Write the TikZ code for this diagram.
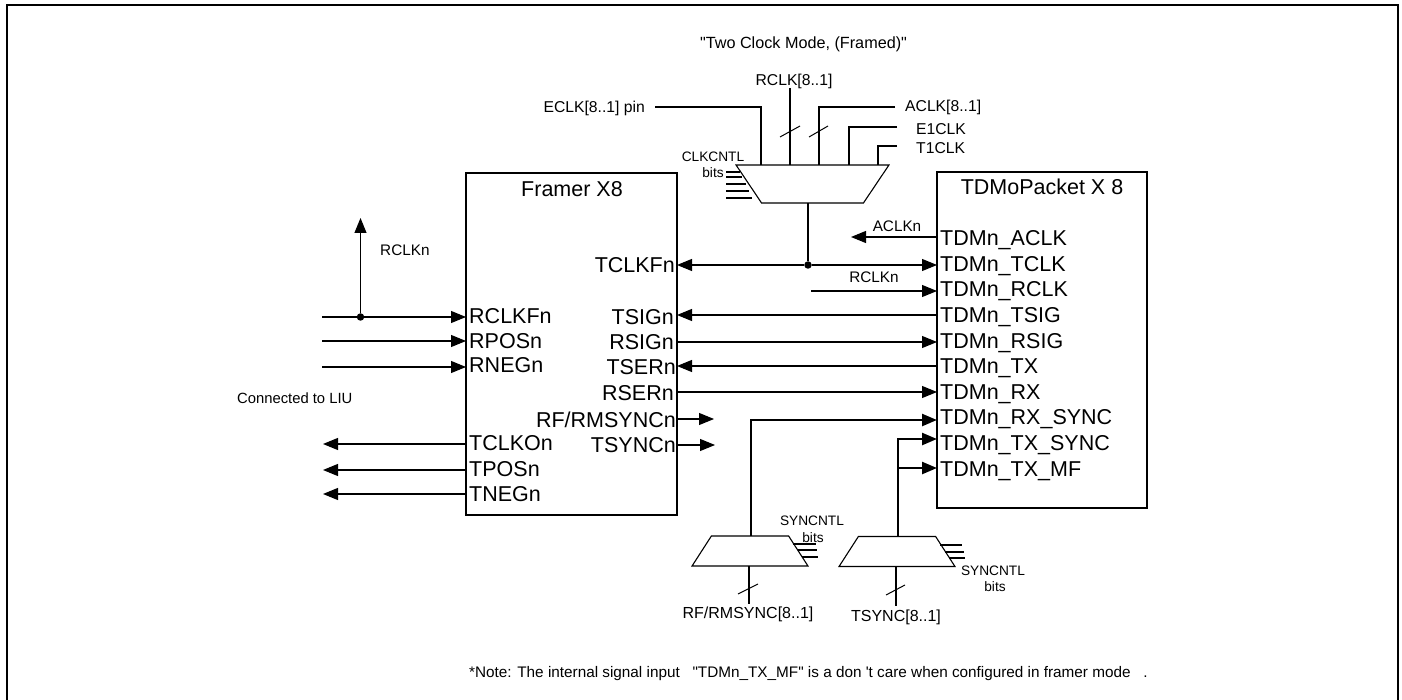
\documentclass[tikz,border=0pt]{standalone}
\usepackage{fontspec}
\setmainfont{Liberation Sans}
\usetikzlibrary{arrows.meta,shapes.geometric}
\newcommand{\muxfill}{\phantom{\rule{20pt}{10pt}}}
\tikzset{
  wire/.style={line width=1.1pt,draw=black},
  heavy/.style={line width=2.4pt,draw=black},
  arr/.style={wire,-{Triangle[length=15pt,width=12pt]}},
  harr/.style={heavy,-{Triangle[length=15pt,width=12pt]}},
  blockbox/.style={draw=black,line width=1.1pt,inner sep=0pt,outer sep=0pt},
  muxup/.style={draw=black,line width=1.1pt,trapezium,trapezium left angle=63.4,trapezium right angle=63.4,trapezium stretches=true,inner sep=0pt,outer sep=0pt},
  muxdown/.style={muxup,shape border rotate=180},
  big/.style={font=\fontsize{21.5}{24}\selectfont,inner sep=0pt,text height=15.5pt,text depth=0pt},
  small/.style={font=\fontsize{15.7}{18}\selectfont,inner sep=0pt,text height=11pt,text depth=0pt},
  tiny/.style={small,font=\fontsize{13.7}{16}\selectfont},
  nodedot/.style={circle,fill=black,inner sep=0pt,minimum size=7.5pt},
  tick/.style={line width=1pt}
}
\begin{document}
\begin{tikzpicture}[x=1pt,y=-1pt]
\useasboundingbox (0,0) rectangle (1402,700);
\draw[line width=2pt] (7,700) -- (7,5.5) -- (1398,5.5) -- (1398,700);

% blocks
\node[blockbox,minimum width=211pt,minimum height=342pt] (framer) at (571.5,344) {};
\node[blockbox,minimum width=210pt,minimum height=336pt] (tdm) at (1042,340) {};
\node[big] (framertitle) at (572,189) {Framer X8};
\node[big] (tdmtitle) at (1042,187) {TDMoPacket X 8};

% muxes
\node[muxdown,minimum width=153pt,minimum height=38pt] (muxclk) at (812.5,184) {\muxfill};
\node[muxup,minimum width=116pt,minimum height=30pt] (muxrf) at (750,551) {\muxfill};
\node[muxup,minimum width=116pt,minimum height=30pt] (muxts) at (897,551.5) {\muxfill};

% framer pins, left
\node[big,anchor=west] (rclkf) at (469,316) {RCLKFn};
\node[big,anchor=west] (rpos) at (469,341) {RPOSn};
\node[big,anchor=west] (rneg) at (469,365) {RNEGn};
\node[big,anchor=west] (tclko) at (469,443) {TCLKOn};
\node[big,anchor=west] (tposn) at (469,469) {TPOSn};
\node[big,anchor=west] (tneg) at (469,494) {TNEGn};
% framer pins, right
\node[big,anchor=east] (tclkf) at (675,265) {TCLKFn};
\node[big,anchor=east] (tsign) at (674,317) {TSIGn};
\node[big,anchor=east] (rsign) at (674,342) {RSIGn};
\node[big,anchor=east] (tsern) at (676,367) {TSERn};
\node[big,anchor=east] (rsern) at (674,393) {RSERn};
\node[big,anchor=east] (rfrm) at (676,420) {RF/RMSYNCn};
\node[big,anchor=east] (tsyncn) at (676,445) {TSYNCn};
% tdm pins
\node[big,anchor=west] (taclk) at (940,238) {TDMn\_ACLK};
\node[big,anchor=west] (ttclk) at (940,264) {TDMn\_TCLK};
\node[big,anchor=west] (trclk) at (940,289) {TDMn\_RCLK};
\node[big,anchor=west] (ttsig) at (940,315) {TDMn\_TSIG};
\node[big,anchor=west] (trsig) at (940,341) {TDMn\_RSIG};
\node[big,anchor=west] (ttx) at (940,366) {TDMn\_TX};
\node[big,anchor=west] (trx) at (940,392) {TDMn\_RX};
\node[big,anchor=west] (trxs) at (940,417) {TDMn\_RX\_SYNC};
\node[big,anchor=west] (ttxs) at (940,443) {TDMn\_TX\_SYNC};
\node[big,anchor=west] (ttxm) at (940,469) {TDMn\_TX\_MF};

% small labels
\node[small,font=\fontsize{16.2}{18}\selectfont] (title) at (803.5,43) {\textquotedbl Two Clock Mode, (Framed)\textquotedbl};
\node[small] (lrclk) at (794,80) {RCLK[8..1]};
\node[small,anchor=east] (leclk) at (645,107) {ECLK[8..1] pin};
\node[small,anchor=west] (laclk) at (905,106) {ACLK[8..1]};
\node[small,anchor=west] (le1) at (916,129) {E1CLK};
\node[small,anchor=west] (lt1) at (916,148) {T1CLK};
\node[tiny] (lcc) at (713,156) {CLKCNTL};
\node[tiny] (lccb) at (713,172) {bits};
\node[small,font=\fontsize{15.3}{18}\selectfont] (lacn) at (897,226) {ACLKn};
\node[small,font=\fontsize{15.3}{18}\selectfont] (lrcn) at (874,277) {RCLKn};
\node[small,font=\fontsize{15.3}{18}\selectfont,anchor=west] (lrcu) at (380,250) {RCLKn};
\node[small,font=\fontsize{14.8}{18}\selectfont,anchor=west] (lliu) at (237,398) {Connected to LIU};
\node[tiny] (ls1) at (812,520) {SYNCNTL};
\node[tiny] (ls1b) at (813,537) {bits};
\node[tiny] (ls2) at (993,570) {SYNCNTL};
\node[tiny] (ls2b) at (995,586) {bits};
\node[small,font=\fontsize{16}{18}\selectfont] (lrfin) at (748,613) {RF/RMSYNC[8..1]};
\node[small,font=\fontsize{16}{18}\selectfont] (ltsin) at (896,616) {TSYNC[8..1]};
\node[small,font=\fontsize{15.3}{18}\selectfont,anchor=west] (note) at (469,672) {*Note: The internal signal input\ \ \ \textquotedbl TDMn\_TX\_MF\textquotedbl{} is a don \textquotesingle t care when configured in framer mode\ \ \ .};

% free ends
\coordinate (c1) at (322,317); \coordinate (c2) at (322,341); \coordinate (c3) at (322,367);
\coordinate (c4) at (323,444); \coordinate (c5) at (323,470); \coordinate (c6) at (323,494);
\coordinate (c7) at (360.5,218);
\coordinate (c8) at (851,237); \coordinate (c9) at (811,291);
\coordinate (c10) at (714,419); \coordinate (c11) at (715,445);
\coordinate (b1) at (751,420); \coordinate (b2) at (898,439); \coordinate (b3) at (898,468);
\node[nodedot] (d1) at (360.5,317) {};
\node[nodedot] (d2) at (808,265) {};

% LIU side
\draw[wire] (c1) -- (d1);
\draw[arr] (d1) -- (c1 -| framer.west);
\draw[arr] (c2) -- (c2 -| framer.west);
\draw[arr] (c3) -- (c3 -| framer.west);
\draw[arr] (d1) -- (c7);
\draw[arr] (c4 -| framer.west) -- (c4);
\draw[arr] (c5 -| framer.west) -- (c5);
\draw[arr] (c6 -| framer.west) -- (c6);

% framer to tdm
\draw[arr] (d2) -- (d2 -| framer.east);
\draw[arr] (d2) -- (d2 -| tdm.west);
\draw[wire] (d2) -- (d2 |- muxclk.south);
\draw[arr] (c8 -| tdm.west) -- (c8);
\draw[arr] (c9) -- (c9 -| tdm.west);
\coordinate (y1) at (800,315); \coordinate (y2) at (800,342); \coordinate (y3) at (800,366); \coordinate (y4) at (800,392);
\draw[arr] (y1 -| tdm.west) -- (y1 -| framer.east);
\draw[arr] (y2 -| framer.east) -- (y2 -| tdm.west);
\draw[arr] (y3 -| tdm.west) -- (y3 -| framer.east);
\draw[arr] (y4 -| framer.east) -- (y4 -| tdm.west);
\draw[arr] (c10 -| framer.east) -- (c10);
\draw[arr] (c11 -| framer.east) -- (c11);

% sync muxes
\draw[harr] (b1 |- muxrf.north) -- (b1) -- (b1 -| tdm.west);
\draw[harr] (b2 |- muxts.north) -- (b2) -- (b2 -| tdm.west);
\draw[harr] (b3) -- (b3 -| tdm.west);
\coordinate (i1) at (749,604); \coordinate (i2) at (896,606);
\draw[wire] (i1 |- muxrf.south) -- (i1);
\draw[wire] (i2 |- muxts.south) -- (i2);
\draw[tick] (738,594) -- (758,584);
\draw[tick] (886,595) -- (905,585);
\draw[wire] (793,544) -- (816,544);
\draw[wire] (798,550) -- (817,550);
\draw[wire] (802,557) -- (818,557);
\draw[wire] (940,545) -- (962,545);
\draw[wire] (945,552) -- (964,552);
\draw[wire] (949,558) -- (965,558);

% clock mux inputs
\coordinate (e1) at (655,107); \coordinate (e2) at (790,88); \coordinate (e3) at (895,107);
\coordinate (e4) at (897,127); \coordinate (e5) at (897,146);
\draw[wire] (e1) -- (761,107) -- (761,165);
\draw[wire] (e2) -- (e2 |- muxclk.north);
\draw[wire] (e3) -- (819,107) -- (819,165);
\draw[wire] (e4) -- (849,127) -- (849,165);
\draw[wire] (e5) -- (878,146) -- (878,165);
\draw[tick] (780,137) -- (800,126);
\draw[tick] (809,137) -- (828,126);
\draw[wire] (726,172) -- (740,172);
\draw[wire] (726,177) -- (742,177);
\draw[wire] (726,184) -- (746,184);
\draw[wire] (726,191) -- (749,191);
\draw[wire] (726,198) -- (752,198);
\end{tikzpicture}
\end{document}
